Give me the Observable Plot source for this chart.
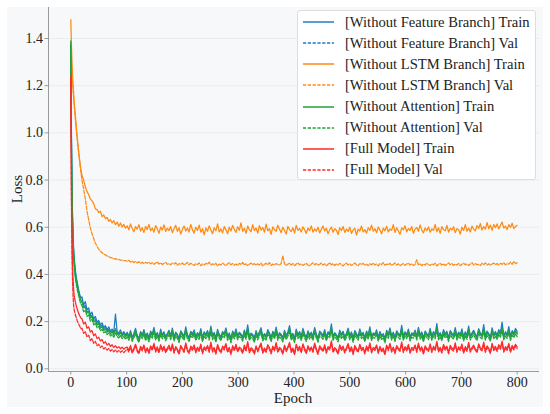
<!DOCTYPE html>
<html>
<head>
<meta charset="utf-8">
<script src="https://cdn.jsdelivr.net/npm/d3@7"></script>
<script src="https://cdn.jsdelivr.net/npm/@observablehq/plot@0.6"></script>
<style>
  html, body { margin: 0; padding: 0; background: #ffffff; }
  #wrap { position: relative; width: 550px; height: 414px; overflow: hidden; font-family: "Liberation Serif"; }
  #bg { position: absolute; left: 7px; top: 7px; width: 536px; height: 400px; background: #f7f8fa; }
  #chart { position: absolute; left: 0; top: 0; }
  #chart svg { background: transparent !important; font-family: "Liberation Serif" !important; }
  #chart svg text { font-family: "Liberation Serif" !important; }
  .axlabel { position: absolute; font-size: 15px; color: #222; white-space: nowrap; font-family: "Liberation Serif"; }
  #ylab { left: 17px; top: 189px; transform: translate(-50%, -50%) rotate(-90deg); }
  #xlab { left: 293px; top: 398px; transform: translate(-50%, -50%); }
  #legend { position: absolute; left: 297px; top: 10px; width: 239px; height: 170px; box-sizing: border-box;
            background: rgba(255,255,255,0.9); border: 1px solid #dcdde0; border-radius: 3px; padding: 0.5px 0 0 5px; }
  .lrow { height: 21.15px; line-height: 21.15px; display: flex; align-items: center; font-size: 14.6px; color: #222; white-space: nowrap; font-family: "Liberation Serif"; }
  .lrow svg { flex: none; margin-right: 11px; }
</style>
</head>
<body>
<div id="wrap">
  <div id="bg"></div>
  <div id="chart"></div>
  <div id="ylab" class="axlabel">Loss</div>
  <div id="xlab" class="axlabel">Epoch</div>
  <div id="legend"></div>
</div>
<script>
// ---- data ----
const epochs = [0,1,2,3,4,5,6,8,10,12,14,16,18, ...d3.range(20, 801, 3)];

const blueTrain = [
1.38,1.02,.80,.66,.57,.51,.47,.42,.385,.36,.335,.315,.30,
.305,.27,.285,.25,.258,.228,.24,.21,.222,.198,.205,.186,.195,.175,.183,.166,.178,.16,.168,.155,.232,.158,.15,.165,.146,.158,.143,
.155,.138,.162,.132,.150,.171,.141,.128,.158,.145,.166,.137,.152,
.129,.160,.147,.176,.139,.154,.131,.168,.143,.157,.135,.149,.163,
.140,.172,.133,.155,.146,.127,.161,.150,.137,.178,.144,.132,.159,
.148,.165,.136,.153,.142,.170,.130,.157,.145,.162,.138,.181,.141,
.154,.129,.167,.146,.135,.158,.149,.173,.137,.152,.126,.160,.144,
.169,.139,.155,.147,.133,.164,.142,.186,.136,.151,.145,.128,.162,
.140,.157,.174,.134,.149,.138,.166,.152,.131,.159,.144,.177,.137,
.153,.146,.130,.163,.141,.156,.183,.139,.150,.127,.168,.145,.158,
.136,.171,.148,.132,.161,.143,.155,.138,.175,.147,.129,.160,.152,
.141,.166,.134,.157,.149,.190,.137,.153,.144,.130,.164,.146,.159,
.135,.151,.172,.140,.156,.128,.162,.148,.138,.169,.145,.154,.131,
.160,.143,.178,.136,.152,.147,.165,.133,.158,.141,.149,.126,.163,
.146,.173,.139,.155,.132,.161,.150,.142,.184,.137,.157,.145,.168,
.134,.152,.147,.164,.138,.176,.143,.156,.130,.160,.149,.141,.171,
.137,.158,.145,.192,.140,.153,.135,.166,.148,.159,.131,.162,.150,
.143,.175,.138,.155,.146,.169,.134,.157,.142,.181,.139,.152,.163,
.147,.136,.170,.151,.144,.187,.138,.160,.149,.133,.174,.145,.158,
.141,.166,.152,.198,.139,.157,.146,.179,.137,.162,.150,.171,.158];

const blueVal = [
1.36,.98,.76,.63,.55,.49,.45,.40,.37,.345,.325,.305,.29,
.285,.262,.268,.24,.245,.222,.226,.205,.21,.192,.196,.18,.185,.171,.175,.163,.167,.158,.16,.152,.165,.15,.148,.153,.144,.149,.141,
.147,.138,.152,.136,.145,.157,.140,.133,.150,.143,.155,.137,.148,
.134,.151,.142,.159,.138,.146,.135,.154,.141,.149,.136,.144,.156,
.139,.160,.134,.147,.143,.131,.152,.145,.137,.162,.141,.135,.150,
.144,.153,.138,.148,.140,.158,.133,.149,.142,.154,.137,.163,.139,
.147,.132,.155,.143,.136,.150,.145,.161,.137,.146,.130,.152,.141,
.157,.138,.148,.144,.134,.154,.140,.166,.136,.147,.142,.131,.153,
.139,.149,.160,.135,.145,.138,.155,.147,.133,.151,.141,.162,.137,
.148,.143,.132,.154,.140,.149,.165,.138,.146,.130,.156,.142,.150,
.136,.159,.144,.133,.152,.141,.148,.137,.161,.145,.131,.151,.147,
.140,.155,.134,.149,.145,.168,.137,.147,.142,.132,.154,.143,.151,
.135,.146,.160,.139,.150,.130,.153,.144,.137,.157,.142,.148,.133,
.152,.141,.164,.136,.147,.143,.155,.134,.150,.140,.145,.129,.154,
.143,.161,.138,.149,.133,.152,.146,.140,.167,.137,.150,.142,.157,
.134,.147,.144,.155,.138,.163,.141,.149,.131,.152,.145,.139,.160,
.137,.150,.143,.170,.139,.148,.135,.156,.144,.151,.132,.153,.146,
.141,.162,.138,.149,.143,.158,.134,.150,.140,.166,.138,.147,.155,
.144,.136,.159,.147,.141,.168,.137,.152,.145,.133,.161,.142,.150,
.140,.156,.148,.174,.138,.151,.143,.163,.137,.154,.146,.159,.151];

const orangeTrain = [
1.48,1.38,1.31,1.25,1.21,1.17,1.13,1.08,1.02,.97,.925,.88,.845,
.82,.80,.772,.752,.738,.72,.712,.70,.678,.675,.662,.668,.645,.652,.636,.642,.625,.633,.618,.628,.611,.622,.604,.618,.601,.612,.596,
.606,.589,.614,.595,.581,.603,.592,.611,.584,.598,.578,.604,.590,
.612,.585,.597,.579,.607,.593,.574,.601,.588,.610,.582,.596,.586,
.603,.577,.594,.608,.583,.598,.571,.591,.605,.584,.597,.580,.612,
.589,.575,.600,.586,.609,.579,.594,.568,.597,.583,.606,.588,.573,
.598,.585,.614,.580,.593,.576,.603,.589,.572,.600,.584,.608,.591,
.578,.602,.587,.619,.583,.596,.574,.605,.590,.581,.611,.586,.597,
.575,.607,.588,.599,.579,.613,.585,.594,.570,.602,.589,.583,.609,
.592,.577,.600,.586,.571,.604,.590,.582,.598,.575,.608,.587,.595,
.580,.602,.589,.574,.597,.585,.606,.579,.593,.583,.600,.576,.591,
.605,.584,.596,.572,.590,.601,.579,.594,.587,.569,.598,.586,.603,
.578,.593,.582,.600,.574,.589,.596,.567,.592,.584,.605,.580,.590,
.575,.598,.586,.609,.583,.594,.577,.601,.588,.572,.596,.585,.604,
.580,.593,.587,.611,.578,.598,.584,.570,.597,.589,.606,.581,.594,
.586,.603,.574,.592,.599,.583,.610,.588,.576,.597,.585,.601,.579,
.593,.587,.612,.581,.598,.574,.603,.590,.585,.608,.579,.596,.588,
.602,.577,.594,.589,.571,.600,.586,.611,.583,.597,.580,.605,.592,
.585,.607,.595,.616,.588,.603,.592,.620,.594,.609,.587,.612,.598,
.614,.593,.608,.622,.596,.605,.590,.611,.599,.617,.594,.603,.608];

const orangeVal = [
1.27,1.26,1.24,1.21,1.18,1.15,1.12,1.06,1.01,.96,.915,.875,.835,
.80,.762,.72,.668,.632,.598,.572,.552,.532,.52,.507,.498,.492,.486,.483,.478,.476,.471,.47,.466,.467,.463,.464,.46,.461,.458,.459,
.456,.460,.452,.457,.450,.455,.449,.454,.447,.452,.446,.451,.448,
.452,.445,.450,.443,.448,.453,.444,.449,.442,.447,.451,.443,.446,
.441,.448,.444,.450,.439,.446,.442,.449,.440,.445,.451,.441,.447,
.443,.438,.446,.442,.449,.437,.444,.440,.447,.443,.452,.439,.445,
.441,.447,.436,.444,.440,.448,.442,.437,.445,.450,.441,.446,.439,
.444,.438,.447,.442,.451,.440,.445,.437,.443,.448,.441,.446,.439,
.445,.440,.448,.436,.443,.447,.441,.450,.438,.444,.440,.446,.442,
.439,.447,.480,.445,.438,.443,.448,.440,.446,.437,.444,.449,.441,
.445,.438,.443,.447,.440,.436,.444,.449,.441,.446,.439,.443,.448,
.440,.445,.437,.443,.450,.441,.446,.438,.444,.440,.447,.442,.436,
.444,.448,.440,.445,.438,.443,.449,.441,.437,.446,.442,.447,.439,
.443,.437,.445,.441,.448,.440,.444,.436,.446,.442,.450,.439,.444,
.441,.447,.438,.443,.449,.440,.445,.437,.442,.446,.439,.444,.448,
.440,.445,.438,.443,.462,.441,.446,.437,.444,.440,.447,.442,.438,
.445,.441,.448,.436,.443,.447,.440,.445,.438,.443,.449,.441,.446,
.439,.444,.440,.447,.437,.443,.448,.441,.445,.438,.444,.450,.440,
.446,.441,.443,.438,.447,.442,.449,.440,.445,.439,.444,.448,.442,
.446,.440,.447,.443,.450,.441,.446,.444,.452,.443,.455,.447,.449];

const greenTrain = [
1.39,1.00,.78,.64,.55,.50,.46,.41,.375,.35,.325,.305,.29,
.285,.258,.262,.236,.242,.215,.224,.198,.206,.185,.192,.172,.18,.162,.17,.155,.163,.148,.158,.143,.17,.147,.141,.155,.138,.150,.135,
.148,.131,.156,.125,.143,.162,.136,.121,.152,.138,.159,.129,.145,
.123,.154,.140,.166,.132,.149,.126,.158,.137,.151,.128,.144,.157,
.134,.163,.127,.150,.139,.120,.155,.143,.131,.168,.137,.125,.152,
.141,.158,.129,.147,.135,.161,.124,.150,.138,.156,.131,.170,.134,
.147,.122,.159,.140,.128,.152,.142,.164,.130,.146,.119,.154,.137,
.160,.132,.148,.141,.126,.157,.135,.172,.129,.145,.138,.121,.155,
.133,.150,.165,.127,.143,.131,.158,.146,.124,.152,.137,.167,.130,
.146,.139,.123,.156,.134,.149,.170,.132,.144,.120,.160,.138,.151,
.129,.162,.141,.125,.154,.136,.148,.131,.166,.140,.122,.153,.145,
.134,.158,.127,.150,.142,.174,.130,.146,.137,.123,.157,.139,.152,
.128,.144,.163,.133,.149,.121,.155,.141,.131,.160,.138,.147,.124,
.153,.136,.168,.129,.145,.140,.157,.126,.151,.134,.142,.119,.156,
.139,.164,.132,.148,.125,.154,.143,.135,.171,.130,.150,.138,.160,
.127,.145,.140,.157,.131,.166,.136,.149,.123,.153,.142,.134,.162,
.130,.151,.138,.175,.133,.146,.128,.159,.141,.152,.124,.155,.143,
.136,.166,.131,.148,.139,.161,.127,.150,.135,.169,.132,.145,.156,
.140,.129,.162,.144,.137,.173,.131,.153,.142,.126,.164,.138,.151,
.134,.158,.145,.176,.132,.150,.139,.167,.130,.155,.143,.161,.147];

const greenVal = [
1.37,.96,.74,.61,.53,.47,.43,.385,.355,.33,.31,.29,.275,
.268,.242,.248,.222,.228,.202,.21,.186,.194,.174,.18,.162,.168,.153,.158,.145,.152,.139,.146,.134,.152,.137,.131,.142,.128,.138,.125,
.136,.121,.143,.116,.132,.149,.126,.112,.140,.128,.146,.119,.134,
.114,.141,.130,.152,.122,.137,.117,.145,.127,.139,.119,.133,.144,
.124,.150,.118,.138,.129,.111,.143,.132,.121,.154,.127,.116,.140,
.131,.146,.120,.136,.125,.148,.115,.139,.128,.143,.122,.156,.124,
.136,.113,.146,.130,.119,.140,.132,.151,.121,.135,.110,.142,.127,
.147,.123,.137,.131,.117,.145,.125,.158,.120,.134,.128,.112,.143,
.123,.139,.152,.118,.132,.122,.146,.135,.115,.141,.127,.154,.121,
.135,.129,.114,.144,.124,.138,.156,.122,.133,.111,.148,.128,.140,
.120,.149,.131,.116,.142,.126,.137,.121,.153,.130,.113,.141,.134,
.125,.146,.118,.139,.132,.160,.121,.135,.127,.114,.145,.129,.140,
.119,.133,.150,.123,.138,.112,.143,.131,.122,.148,.128,.136,.115,
.141,.126,.155,.120,.134,.130,.145,.117,.139,.124,.132,.110,.144,
.129,.151,.122,.137,.116,.142,.133,.125,.158,.121,.139,.128,.148,
.118,.134,.130,.145,.122,.153,.126,.138,.114,.141,.132,.124,.150,
.121,.140,.128,.161,.123,.135,.119,.147,.131,.140,.115,.143,.133,
.126,.153,.122,.137,.129,.149,.118,.139,.125,.156,.123,.134,.144,
.130,.120,.149,.133,.127,.159,.122,.141,.132,.117,.151,.128,.139,
.124,.146,.134,.162,.123,.138,.129,.154,.121,.143,.132,.148,.136];

const redTrain = [
1.24,.80,.58,.45,.38,.34,.31,.285,.265,.25,.235,.225,.215,
.212,.19,.198,.172,.178,.156,.162,.14,.148,.128,.134,.118,.124,.108,.115,.101,.108,.095,.102,.09,.098,.088,.094,.085,.092,.083,.09,
.092,.078,.099,.072,.087,.104,.081,.069,.095,.083,.101,.075,.089,
.071,.097,.085,.108,.077,.093,.073,.102,.082,.096,.074,.088,.100,
.079,.106,.072,.094,.084,.067,.099,.087,.076,.110,.082,.071,.096,
.086,.101,.074,.091,.080,.105,.070,.093,.083,.099,.076,.113,.078,
.090,.068,.103,.085,.073,.096,.087,.107,.075,.091,.066,.098,.082,
.104,.077,.092,.086,.071,.100,.080,.115,.074,.089,.083,.068,.097,
.078,.094,.109,.072,.088,.076,.102,.090,.069,.096,.082,.111,.075,
.091,.084,.068,.100,.079,.093,.112,.076,.088,.065,.104,.083,.095,
.074,.106,.086,.070,.098,.081,.092,.076,.109,.085,.067,.097,.089,
.079,.102,.072,.094,.087,.118,.075,.090,.082,.068,.101,.084,.096,
.073,.089,.107,.078,.093,.066,.099,.086,.076,.104,.083,.091,.069,
.097,.081,.110,.074,.090,.085,.101,.071,.095,.079,.087,.064,.100,
.084,.108,.077,.092,.070,.098,.088,.080,.114,.075,.094,.083,.103,
.072,.090,.085,.101,.076,.109,.081,.093,.068,.097,.087,.079,.106,
.075,.095,.083,.116,.078,.091,.073,.103,.086,.096,.069,.099,.088,
.081,.110,.076,.093,.084,.105,.072,.094,.080,.112,.077,.090,.100,
.085,.074,.106,.089,.082,.113,.076,.097,.087,.071,.108,.083,.095,
.079,.102,.090,.117,.077,.094,.084,.108,.075,.099,.087,.104,.092];

const redVal = [
1.22,.72,.50,.38,.31,.27,.25,.23,.215,.20,.19,.18,.17,
.172,.15,.158,.135,.142,.12,.128,.108,.116,.098,.104,.09,.097,.084,.09,.079,.086,.075,.082,.072,.08,.071,.078,.07,.077,.069,.076,
.084,.071,.091,.066,.080,.096,.074,.063,.088,.076,.093,.069,.082,
.065,.090,.078,.100,.071,.086,.067,.095,.075,.089,.068,.081,.092,
.073,.098,.066,.087,.077,.061,.092,.080,.070,.102,.075,.065,.089,
.079,.094,.068,.084,.074,.097,.064,.086,.077,.092,.070,.105,.072,
.083,.062,.095,.078,.067,.089,.080,.099,.069,.084,.060,.091,.076,
.096,.071,.085,.079,.065,.093,.074,.107,.068,.082,.077,.062,.090,
.072,.087,.101,.066,.081,.070,.094,.083,.063,.089,.076,.103,.069,
.084,.077,.062,.093,.073,.086,.104,.070,.081,.060,.097,.076,.088,
.068,.098,.079,.064,.091,.075,.085,.070,.101,.078,.061,.090,.082,
.073,.095,.066,.087,.080,.110,.069,.083,.076,.062,.094,.078,.089,
.067,.082,.099,.072,.086,.060,.092,.079,.070,.097,.077,.084,.063,
.090,.075,.102,.068,.083,.078,.094,.065,.088,.073,.080,.059,.093,
.077,.100,.071,.085,.064,.091,.081,.074,.106,.069,.087,.076,.096,
.066,.083,.078,.094,.070,.101,.075,.086,.062,.090,.080,.073,.098,
.069,.088,.077,.108,.072,.084,.067,.096,.079,.089,.063,.092,.081,
.075,.102,.070,.086,.078,.097,.066,.087,.074,.104,.071,.083,.093,
.079,.068,.098,.082,.076,.105,.070,.090,.080,.065,.100,.077,.088,
.073,.095,.083,.109,.071,.087,.078,.100,.069,.092,.080,.097,.085];

const seriesNames = [
  "[Without Feature Branch] Train", "[Without Feature Branch] Val",
  "[Without LSTM Branch] Train", "[Without LSTM Branch] Val",
  "[Without Attention] Train", "[Without Attention] Val",
  "[Full Model] Train", "[Full Model] Val"
];
const seriesValues = [blueTrain, blueVal, orangeTrain, orangeVal, greenTrain, greenVal, redTrain, redVal];
const seriesColors = ["#1f7bc4", "#1f7bc4", "#ff8a12", "#ff8a12", "#1fa33a", "#1fa33a", "#ff2a2a", "#ff2a2a"];
const seriesDashed = [false, true, false, true, false, true, false, true];

const yTicks = [0.0, 0.2, 0.4, 0.6, 0.8, 1.0, 1.2, 1.4];
const xTicks = [0, 100, 200, 300, 400, 500, 600, 700, 800];
const xDomain = [-40, 840];
const yDomain = [-0.0114, 1.5314];

// ---- chart ----
const FONT = "Liberation Serif";
const marks = [
  Plot.gridY(yTicks, {stroke: "#e6e8ec", strokeOpacity: 1, strokeWidth: 0.8}),
];
seriesValues.forEach((vals, k) => {
  const data = epochs.map((e, i) => ({epoch: e, loss: vals[i]}));
  marks.push(Plot.line(data, {
    x: "epoch", y: "loss",
    stroke: seriesColors[k],
    strokeWidth: 1.25,
    strokeDasharray: seriesDashed[k] ? "3.7,1.6" : null,
    strokeLinejoin: "round"
  }));
});
marks.push(
  Plot.ruleX([xDomain[0]], {stroke: "#9a9a9a", strokeWidth: 1}),
  Plot.ruleY([yDomain[0]], {stroke: "#9a9a9a", strokeWidth: 1}),
  Plot.axisY(yTicks, {tickFormat: d3.format(".1f"), tickSize: 3.5, tickPadding: 2, stroke: "#9a9a9a", fill: "#222", fontSize: 14, fontFamily: FONT, label: null}),
  Plot.axisX(xTicks, {tickFormat: d => String(d), tickSize: 3.5, tickPadding: 2, stroke: "#9a9a9a", fill: "#222", fontSize: 14, fontFamily: FONT, label: null})
);

const chart = Plot.plot({
  width: 550,
  height: 414,
  marginLeft: 48,
  marginRight: 11,
  marginTop: 7,
  marginBottom: 43,
  x: {domain: xDomain},
  y: {domain: yDomain},
  style: {fontFamily: FONT, fontSize: "14px", background: "transparent", overflow: "visible"},
  marks
});
document.getElementById("chart").appendChild(chart);

// ---- legend ----
const legend = document.getElementById("legend");
seriesNames.forEach((name, k) => {
  const row = document.createElement("div");
  row.className = "lrow";
  const dash = seriesDashed[k] ? ' stroke-dasharray="3.2,1.6"' : '';
  row.innerHTML = `<svg width="31" height="6"><line x1="0" y1="3" x2="31" y2="3" stroke="${seriesColors[k]}" stroke-width="1.5"${dash}/></svg><span>${name}</span>`;
  legend.appendChild(row);
});
</script>
</body>
</html>
